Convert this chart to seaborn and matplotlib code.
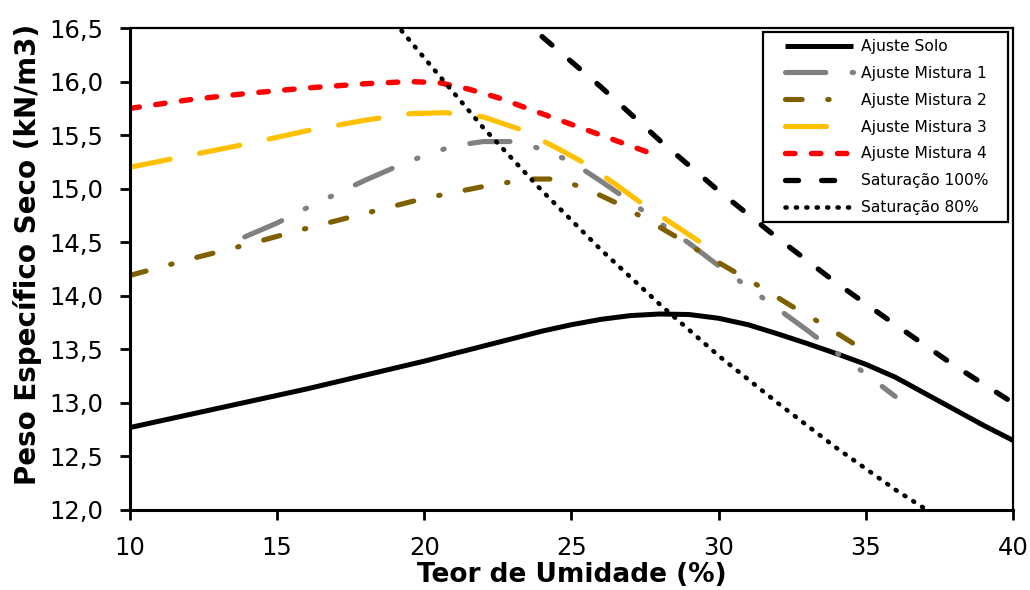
import matplotlib
matplotlib.use("Agg")
import matplotlib.pyplot as plt
from matplotlib.patches import Rectangle
import seaborn as sns

# ---------------- data ----------------
solo_x = [10, 12, 14, 16, 18, 20, 22, 24, 25, 26, 27, 28, 29, 30, 31, 32, 33, 34, 35, 36, 37, 38, 39, 40]
solo_y = [12.77, 12.89, 13.01, 13.13, 13.26, 13.39, 13.53, 13.67, 13.73, 13.78, 13.815, 13.83, 13.825,
          13.79, 13.73, 13.645, 13.555, 13.46, 13.36, 13.24, 13.09, 12.94, 12.79, 12.65]

m1_x = [13.9, 15, 16, 17, 18, 19, 20, 21, 22, 23, 24, 25, 26, 27, 28, 29, 30, 31, 32, 33, 34, 35, 36]
m1_y = [14.55, 14.68, 14.82, 14.95, 15.08, 15.20, 15.31, 15.40, 15.44, 15.44, 15.37, 15.25, 15.07,
        14.88, 14.68, 14.49, 14.28, 14.08, 13.88, 13.68, 13.47, 13.27, 13.06]

m2_x = [10, 12, 14, 16, 18, 20, 22, 23.5, 24.5, 25.5, 26.5, 27.5, 28.5, 29.5, 30.5, 31.5, 32.5, 33.5, 34.2, 35]
m2_y = [14.19, 14.34, 14.48, 14.63, 14.77, 14.91, 15.02, 15.09, 15.09, 15.00, 14.87, 14.72, 14.56,
        14.39, 14.23, 14.07, 13.90, 13.74, 13.62, 13.48]

m3_x = [10, 12, 14, 16, 18, 19.5, 20.7, 22, 23.3, 24.5, 25.5, 26.5, 27.5, 28.5, 29.6]
m3_y = [15.20, 15.31, 15.42, 15.54, 15.64, 15.70, 15.71, 15.67, 15.55, 15.38, 15.23, 15.04, 14.84,
        14.66, 14.46]

m4_x = [10, 12, 14, 16, 18, 19.5, 20.5, 21.5, 22.5, 23.5, 24.5, 25.5, 26.5, 27.7]
m4_y = [15.75, 15.83, 15.89, 15.94, 15.98, 16.00, 15.99, 15.93, 15.85, 15.75, 15.65, 15.55, 15.45, 15.33]

s100_x = [24, 26, 28, 30, 32, 34, 36, 38, 40]
s100_y = [16.42, 15.95, 15.45, 14.98, 14.54, 14.12, 13.73, 13.35, 13.00]

s80_x = [19, 20, 22, 24, 26, 28, 30, 32, 34, 36, 37.3]
s80_y = [16.55, 16.22, 15.57, 14.98, 14.43, 13.92, 13.44, 13.00, 12.58, 12.19, 11.96]

series_labels = ["Ajuste Solo", "Ajuste Mistura 1", "Ajuste Mistura 2", "Ajuste Mistura 3",
                 "Ajuste Mistura 4", "Saturação 100%", "Saturação 80%"]

x_ticks = [10, 15, 20, 25, 30, 35, 40]
y_ticks = [12.0, 12.5, 13.0, 13.5, 14.0, 14.5, 15.0, 15.5, 16.0, 16.5]
y_tick_labels = ["12,0", "12,5", "13,0", "13,5", "14,0", "14,5", "15,0", "15,5", "16,0", "16,5"]

# ---------------- style ----------------
sns.set_style("ticks")
plt.rcParams["font.family"] = ["DejaVu Sans"]
plt.rcParams["lines.scale_dashes"] = False
plt.rcParams["lines.dash_capstyle"] = "round"
for k in ["text.color", "axes.labelcolor", "xtick.color", "ytick.color", "axes.edgecolor"]:
    plt.rcParams[k] = "black"

fig = plt.figure(figsize=(10.3, 5.9), dpi=100)
ax = fig.add_axes([0.1262, 0.1356, 0.8573, 0.8169])

styles = [
    dict(color="black", lw=3.6, linestyle="-", solid_capstyle="butt"),
    dict(color="#808080", lw=3.7, linestyle=(0, (29, 19, 1.0, 19, 1.0, 19)), dash_capstyle="round"),
    dict(color="#7F6000", lw=3.7, linestyle=(0, (12, 18.4, 1.0, 18.4)), dash_capstyle="round"),
    dict(color="#FFC000", lw=3.7, linestyle=(0, (29.5, 21.6)), dash_capstyle="round"),
    dict(color="#FF0000", lw=3.9, linestyle=(0, (6.8, 11.9)), dash_capstyle="round"),
    dict(color="black", lw=3.8, linestyle=(0, (9.4, 16.6)), dash_capstyle="round"),
    dict(color="black", lw=3.3, linestyle=(0, (0.8, 6.7)), dash_capstyle="round"),
]
data = [(solo_x, solo_y), (m1_x, m1_y), (m2_x, m2_y), (m3_x, m3_y), (m4_x, m4_y),
        (s100_x, s100_y), (s80_x, s80_y)]

for (xs, ys), lab, st in zip(data, series_labels, styles):
    sns.lineplot(x=xs, y=ys, ax=ax, label=lab, sort=False, **st)

ax.set_xlim(10, 40)
ax.set_ylim(12.0, 16.5)
ax.set_xticks(x_ticks)
ax.set_xticklabels([str(v) for v in x_ticks])
ax.set_yticks(y_ticks)
ax.set_yticklabels(y_tick_labels)

ax.tick_params(axis="both", direction="out", length=7, width=2, labelsize=17.5, colors="black")
ax.tick_params(axis="y", pad=12)
ax.tick_params(axis="x", pad=12)

for side in ["left", "bottom"]:
    ax.spines[side].set_linewidth(2.2)
for side in ["top", "right"]:
    ax.spines[side].set_linewidth(1.6)
for s in ax.spines.values():
    s.set_color("black")
    s.set_visible(True)

ax.set_xlabel("Teor de Umidade (%)", fontsize=19, fontweight="bold", labelpad=1, color="black")
ax.set_ylabel("Peso Específico Seco (kN/m3)", fontsize=20, fontweight="bold", color="black")
ax.yaxis.set_label_coords(-0.0997, 0.531)

# legend box (white, black border) drawn in axes fraction, legend content placed inside it
box = Rectangle((0.7169, 0.5975), 0.2774, 0.3942, transform=ax.transAxes, facecolor="white",
                edgecolor="black", linewidth=1.6, zorder=4.5, clip_on=False)
ax.add_patch(box)
leg = ax.legend(loc="upper left", bbox_to_anchor=(0.7418, 0.977), borderaxespad=0, borderpad=0,
                fontsize=11.2, frameon=False, handlelength=4.4,
                handletextpad=0.5, labelspacing=0.76)
leg.set_zorder(5)

fig.savefig("out.png", dpi=100)
